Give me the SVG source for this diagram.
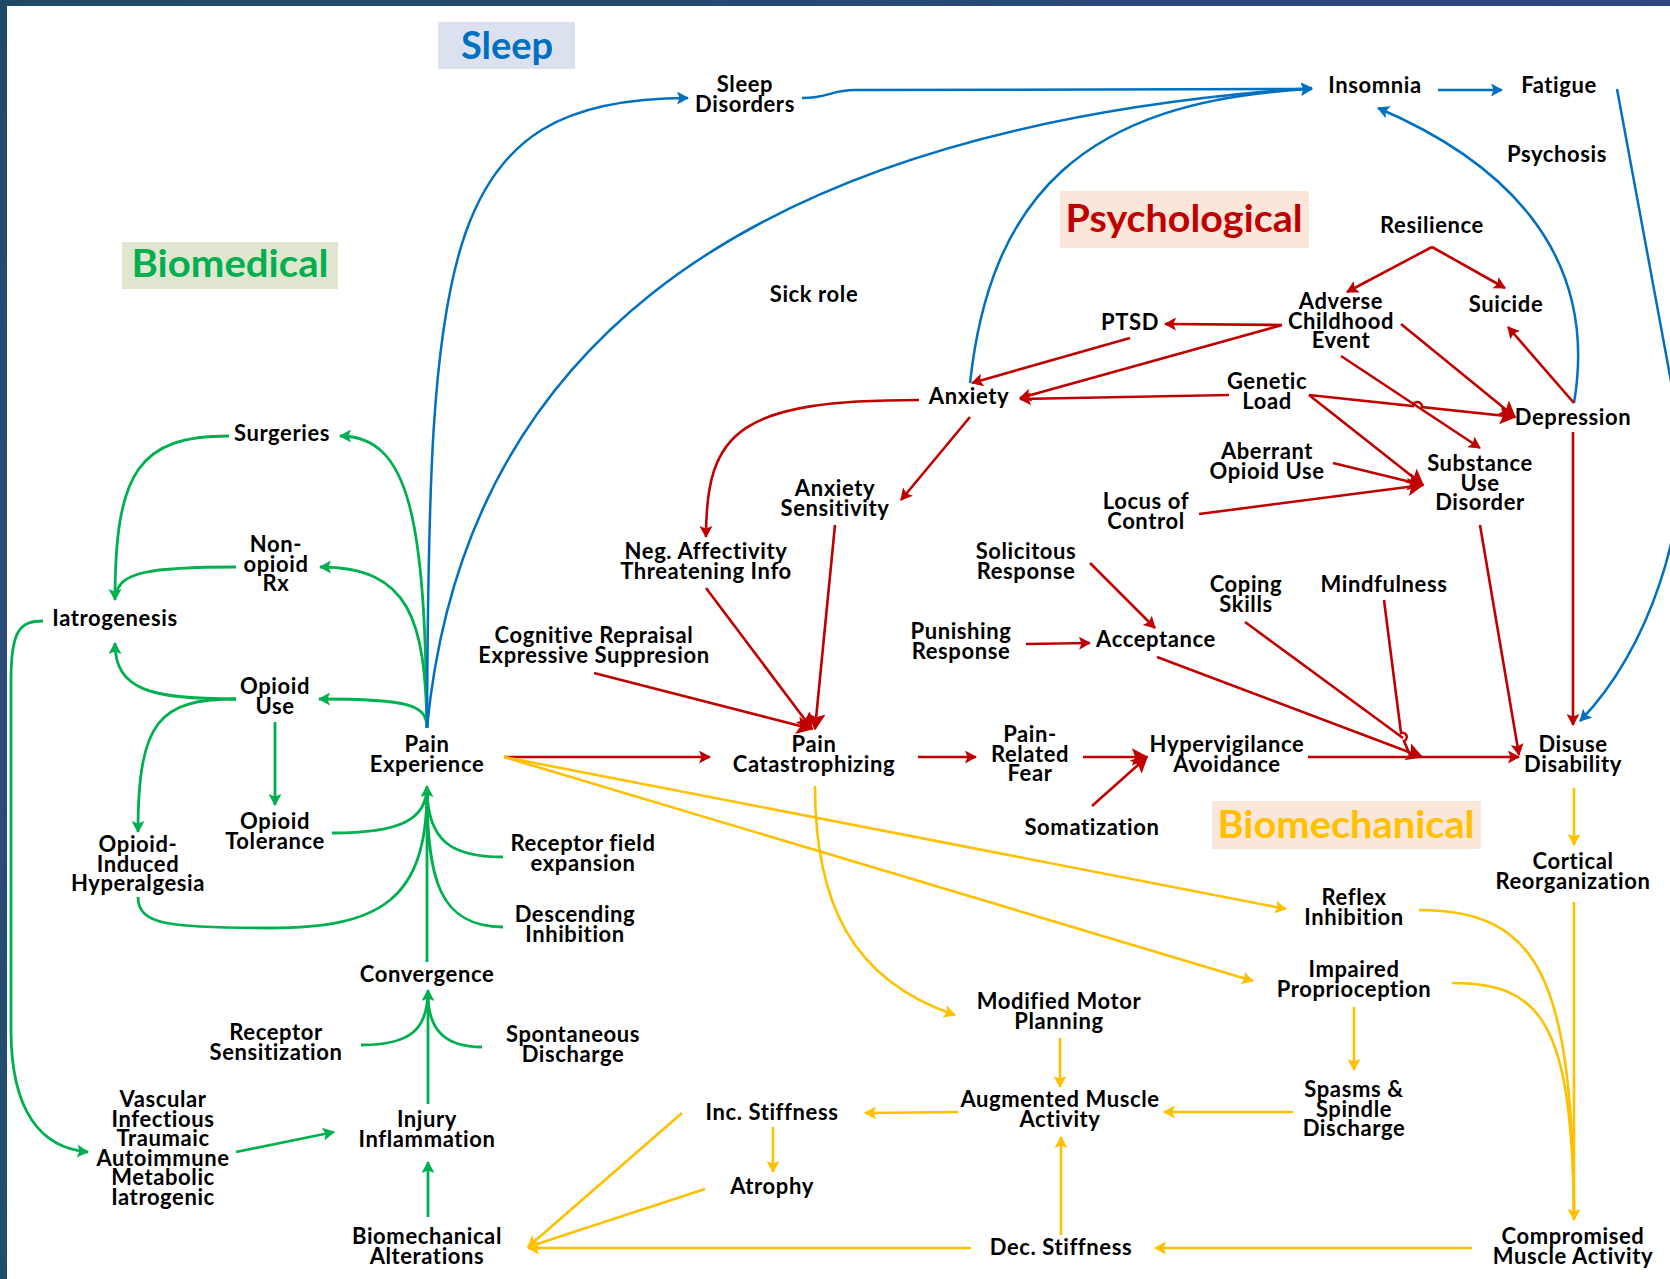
<svg xmlns="http://www.w3.org/2000/svg" width="1670" height="1279" viewBox="0 0 1670 1279">
<defs>
<linearGradient id="topbar" x1="0" y1="0" x2="1" y2="0"><stop offset="0" stop-color="#1e4b64"/><stop offset="1" stop-color="#2f4781"/></linearGradient>
<linearGradient id="leftbar" x1="0" y1="0" x2="0" y2="1"><stop offset="0" stop-color="#1f4a66"/><stop offset="0.5" stop-color="#2c4b7a"/><stop offset="1" stop-color="#204e68"/></linearGradient>
<marker id="aG" viewBox="0 0 12 13" refX="11" refY="6.5" markerWidth="12" markerHeight="13" markerUnits="userSpaceOnUse" orient="auto"><path d="M0,0 L12,6.5 L0,13 L2.5,6.5 z" fill="#00b050"/></marker>
<marker id="aB" viewBox="0 0 12 13" refX="11" refY="6.5" markerWidth="12" markerHeight="13" markerUnits="userSpaceOnUse" orient="auto"><path d="M0,0 L12,6.5 L0,13 L2.5,6.5 z" fill="#0070c0"/></marker>
<marker id="aR" viewBox="0 0 12 13" refX="11" refY="6.5" markerWidth="12" markerHeight="13" markerUnits="userSpaceOnUse" orient="auto"><path d="M0,0 L12,6.5 L0,13 L2.5,6.5 z" fill="#c00000"/></marker>
<marker id="aRL" viewBox="0 0 12 13" refX="11" refY="6.5" markerWidth="17" markerHeight="18" markerUnits="userSpaceOnUse" orient="auto"><path d="M0,0 L12,6.5 L0,13 L2.5,6.5 z" fill="#c00000"/></marker>
<marker id="aY" viewBox="0 0 12 13" refX="11" refY="6.5" markerWidth="12" markerHeight="13" markerUnits="userSpaceOnUse" orient="auto"><path d="M0,0 L12,6.5 L0,13 L2.5,6.5 z" fill="#ffc000"/></marker>
</defs>
<style>
.t{font-family:Lato,"Open Sans","Liberation Sans",sans-serif;font-weight:700;font-size:22px;letter-spacing:0.6px;fill:#000;text-anchor:middle}
.h{font-family:Lato,"Open Sans","Liberation Sans",sans-serif;font-weight:700;font-size:38px;text-anchor:middle}
.g{fill:none;stroke:#00b050;stroke-width:2.8}
.b{fill:none;stroke:#0070c0;stroke-width:2.5}
.r{fill:none;stroke:#c00000;stroke-width:2.6}
.y{fill:none;stroke:#ffc000;stroke-width:2.6}
.g.a{marker-end:url(#aG)}
.b.a{marker-end:url(#aB)}
.r.a{marker-end:url(#aR)}
.r.L{marker-end:url(#aRL)}
.y.a{marker-end:url(#aY)}
</style>
<rect x="0" y="0" width="1670" height="1279" fill="#ffffff"/>
<rect x="0" y="0" width="1670" height="6" fill="url(#topbar)"/>
<rect x="0" y="0" width="7" height="1279" fill="url(#leftbar)"/>

<g id="titles">
<rect x="438" y="22" width="137" height="47" fill="#dce1ef"/>
<text class="h" x="507" y="59" fill="#0070c0">Sleep</text>
<rect x="122" y="242" width="216" height="47" fill="#e1e6d0"/>
<text class="h" x="230" y="277" fill="#00b050" textLength="197" lengthAdjust="spacingAndGlyphs">Biomedical</text>
<rect x="1060" y="191" width="249" height="57" fill="#fbe7d9"/>
<text class="h" x="1184" y="232" fill="#c00000" textLength="237" lengthAdjust="spacingAndGlyphs">Psychological</text>
<rect x="1212" y="801" width="269" height="48" fill="#fbe7d9"/>
<text class="h" x="1346" y="838" fill="#ffc000" textLength="257" lengthAdjust="spacingAndGlyphs">Biomechanical</text>
</g>

<g id="connectors">
<!-- green -->
<path class="g a" d="M427,728 C425,520 410,436 340,436"/>
<path class="g a" d="M427,728 C425,620 410,567 320,567"/>
<path class="g a" d="M427,728 C427,705 410,699 319,699"/>
<path class="g a" d="M229,436 C140,436 115,470 115,600"/>
<path class="g" d="M236,567 C150,567 118,572 116,596"/>
<path class="g a" d="M236,699 C150,699 115,690 115,643"/>
<path class="g a" d="M236,699 C160,699 138,720 138,832"/>
<path class="g a" d="M275,722 L275,805"/>
<path class="g a" d="M332,833 C400,833 427,820 427,786"/>
<path class="g" d="M138,897 C138,925 170,928 270,928 C380,928 427,900 427,790"/>
<path class="g" d="M503,857 C450,857 428,840 427,790"/>
<path class="g" d="M503,927 C440,927 427,880 427,790"/>
<path class="g" d="M427,962 L427,790"/>
<path class="g a" d="M361,1045 C410,1045 428,1030 428,990"/>
<path class="g" d="M482,1047 C445,1047 428,1030 428,994"/>
<path class="g" d="M428,1104 L428,994"/>
<path class="g a" d="M428,1217 L428,1162"/>
<path class="g a" d="M43,621 C20,621 11,630 11,680 L11,1030 C11,1110 40,1148 88,1152"/>
<path class="g a" d="M236,1152 L334,1132"/>
<!-- blue -->
<path class="b a" d="M427,728 C429,250 440,98 688,98"/>
<path class="b a" d="M427,728 C460,380 700,130 1312,88"/>
<path class="b" d="M802,98 C830,98 830,90 855,90 L1300,89"/>
<path class="b a" d="M970,383 C990,200 1080,100 1312,89"/>
<path class="b a" d="M1438,90 L1502,90"/>
<path class="b a" d="M1574,403 C1600,250 1500,160 1378,108"/>
<path class="b a" d="M1617,89 L1680,430 C1690,520 1650,650 1580,721"/>
<!-- red -->
<path class="r a" d="M1432,247 L1347,292"/>
<path class="r a" d="M1432,247 L1505,288"/>
<path class="r a" d="M1282,325 L1165,324"/>
<path class="r a" d="M1282,325 L1020,398"/>
<path class="r a" d="M1130,338 L972,383"/>
<path class="r a" d="M1229,395 L1020,399"/>
<path class="r L" d="M1309,395 L1413,406.1 A4.5,4.5 0 0 1 1422,407.1 L1515,417"/>
<path class="r L" d="M1309,395 L1423,485"/>
<path class="r L" d="M1401,324 L1515,417"/>
<path class="r a" d="M1341,356 L1480,448"/>
<path class="r L" d="M1333,463 L1423,485"/>
<path class="r L" d="M1199,514 L1423,485"/>
<path class="r a" d="M1574,403 L1508,327"/>
<path class="r a" d="M1573,432 L1573,725"/>
<path class="r a" d="M1480,525 L1519,755"/>
<path class="r a" d="M919,400 C740,400 706,430 706,537"/>
<path class="r a" d="M970,417 L901,500"/>
<path class="r L" d="M835,525 L815,729"/>
<path class="r L" d="M706,588 L812,729"/>
<path class="r L" d="M594,673 L812,729"/>
<path class="r a" d="M504,757 L710,757"/>
<path class="r a" d="M918,757 L976,757"/>
<path class="r L" d="M1083,757 L1147,757"/>
<path class="r L" d="M1092,806 L1147,757"/>
<path class="r a" d="M1090,563 L1155,628"/>
<path class="r a" d="M1026,644 L1090,643"/>
<path class="r a" d="M1308,757 L1519,757"/>
<path class="r L" d="M1157,657 L1422,757"/>
<path class="r" d="M1245,622 L1403,738"/>
<path class="r" d="M1384,600 L1401,733 A4,4 0 0 1 1404,741 L1410,755"/>
<!-- yellow -->
<path class="y a" d="M504,757 L1286,909"/>
<path class="y a" d="M504,757 L1253,981"/>
<path class="y a" d="M815,786 C815,900 850,980 955,1015"/>
<path class="y a" d="M1060,1038 L1060,1087"/>
<path class="y a" d="M1293,1112 L1164,1112"/>
<path class="y a" d="M958,1112 L865,1113"/>
<path class="y a" d="M773,1127 L773,1172"/>
<path class="y a" d="M1354,1007 L1354,1070"/>
<path class="y a" d="M1061,1235 L1061,1137"/>
<path class="y a" d="M1472,1248 L1155,1248"/>
<path class="y a" d="M971,1248 L528,1248"/>
<path class="y a" d="M682,1113 L528,1247"/>
<path class="y a" d="M705,1189 L528,1247"/>
<path class="y a" d="M1574,788 L1574,845"/>
<path class="y a" d="M1574,902 L1574,1220"/>
<path class="y" d="M1419,910 C1540,910 1572,980 1574,1215"/>
<path class="y" d="M1452,983 C1540,983 1572,1020 1574,1215"/>
</g>

<g id="n-surgeries"><text class="t" x="282" y="441">Surgeries</text></g>
<g id="n-nonopioid"><text class="t" x="276" y="552"><tspan x="276">Non-</tspan><tspan x="276" dy="19.5">opioid</tspan><tspan x="276" dy="19.5">Rx</tspan></text></g>
<g id="n-iatrogenesis"><text class="t" x="115" y="626">Iatrogenesis</text></g>
<g id="n-opioiduse"><text class="t" x="275" y="694"><tspan x="275">Opioid</tspan><tspan x="275" dy="19.5">Use</tspan></text></g>
<g id="n-opioidtol"><text class="t" x="275" y="829"><tspan x="275">Opioid</tspan><tspan x="275" dy="19.5">Tolerance</tspan></text></g>
<g id="n-oih"><text class="t" x="138" y="852"><tspan x="138">Opioid-</tspan><tspan x="138" dy="19.5">Induced</tspan><tspan x="138" dy="19.5">Hyperalgesia</tspan></text></g>
<g id="n-painexp"><text class="t" x="427" y="752"><tspan x="427">Pain</tspan><tspan x="427" dy="19.5">Experience</tspan></text></g>
<g id="n-recfield"><text class="t" x="583" y="851"><tspan x="583">Receptor field</tspan><tspan x="583" dy="19.5">expansion</tspan></text></g>
<g id="n-descinh"><text class="t" x="575" y="922"><tspan x="575">Descending</tspan><tspan x="575" dy="19.5">Inhibition</tspan></text></g>
<g id="n-convergence"><text class="t" x="427" y="982">Convergence</text></g>
<g id="n-recsens"><text class="t" x="276" y="1040"><tspan x="276">Receptor</tspan><tspan x="276" dy="19.5">Sensitization</tspan></text></g>
<g id="n-spont"><text class="t" x="573" y="1042"><tspan x="573">Spontaneous</tspan><tspan x="573" dy="19.5">Discharge</tspan></text></g>
<g id="n-vascular"><text class="t" x="163" y="1107"><tspan x="163">Vascular</tspan><tspan x="163" dy="19.5">Infectious</tspan><tspan x="163" dy="19.5">Traumaic</tspan><tspan x="163" dy="19.5">Autoimmune</tspan><tspan x="163" dy="19.5">Metabolic</tspan><tspan x="163" dy="19.5">Iatrogenic</tspan></text></g>
<g id="n-injury"><text class="t" x="427" y="1127"><tspan x="427">Injury</tspan><tspan x="427" dy="19.5">Inflammation</tspan></text></g>
<g id="n-biomechalt"><text class="t" x="427" y="1244"><tspan x="427">Biomechanical</tspan><tspan x="427" dy="19.5">Alterations</tspan></text></g>
<g id="n-sleepdis"><text class="t" x="745" y="92"><tspan x="745">Sleep</tspan><tspan x="745" dy="19.5">Disorders</tspan></text></g>
<g id="n-insomnia"><text class="t" x="1375" y="93">Insomnia</text></g>
<g id="n-fatigue"><text class="t" x="1559" y="93">Fatigue</text></g>
<g id="n-psychosis"><text class="t" x="1557" y="162">Psychosis</text></g>
<g id="n-sickrole"><text class="t" x="814" y="302">Sick role</text></g>
<g id="n-resilience"><text class="t" x="1432" y="233">Resilience</text></g>
<g id="n-suicide"><text class="t" x="1506" y="312">Suicide</text></g>
<g id="n-adverse"><text class="t" x="1341" y="309"><tspan x="1341">Adverse</tspan><tspan x="1341" dy="19.5">Childhood</tspan><tspan x="1341" dy="19.5">Event</tspan></text></g>
<g id="n-ptsd"><text class="t" x="1130" y="330">PTSD</text></g>
<g id="n-anxiety"><text class="t" x="969" y="404">Anxiety</text></g>
<g id="n-genetic"><text class="t" x="1267" y="389"><tspan x="1267">Genetic</tspan><tspan x="1267" dy="19.5">Load</tspan></text></g>
<g id="n-depression"><text class="t" x="1573" y="425">Depression</text></g>
<g id="n-aberrant"><text class="t" x="1267" y="459"><tspan x="1267">Aberrant</tspan><tspan x="1267" dy="19.5">Opioid Use</tspan></text></g>
<g id="n-substance"><text class="t" x="1480" y="471"><tspan x="1480">Substance</tspan><tspan x="1480" dy="19.5">Use</tspan><tspan x="1480" dy="19.5">Disorder</tspan></text></g>
<g id="n-locus"><text class="t" x="1146" y="509"><tspan x="1146">Locus of</tspan><tspan x="1146" dy="19.5">Control</tspan></text></g>
<g id="n-anxsens"><text class="t" x="835" y="496"><tspan x="835">Anxiety</tspan><tspan x="835" dy="19.5">Sensitivity</tspan></text></g>
<g id="n-negaff"><text class="t" x="706" y="559"><tspan x="706">Neg. Affectivity</tspan><tspan x="706" dy="19.5">Threatening Info</tspan></text></g>
<g id="n-solicitous"><text class="t" x="1026" y="559"><tspan x="1026">Solicitous</tspan><tspan x="1026" dy="19.5">Response</tspan></text></g>
<g id="n-coping"><text class="t" x="1246" y="592"><tspan x="1246">Coping</tspan><tspan x="1246" dy="19.5">Skills</tspan></text></g>
<g id="n-mindfulness"><text class="t" x="1384" y="592">Mindfulness</text></g>
<g id="n-cognitive"><text class="t" x="594" y="643"><tspan x="594">Cognitive Repraisal</tspan><tspan x="594" dy="19.5">Expressive Suppresion</tspan></text></g>
<g id="n-punishing"><text class="t" x="961" y="639"><tspan x="961">Punishing</tspan><tspan x="961" dy="19.5">Response</tspan></text></g>
<g id="n-acceptance"><text class="t" x="1156" y="647">Acceptance</text></g>
<g id="n-paincat"><text class="t" x="814" y="752"><tspan x="814">Pain</tspan><tspan x="814" dy="19.5">Catastrophizing</tspan></text></g>
<g id="n-prf"><text class="t" x="1030" y="742"><tspan x="1030">Pain-</tspan><tspan x="1030" dy="19.5">Related</tspan><tspan x="1030" dy="19.5">Fear</tspan></text></g>
<g id="n-hyperv"><text class="t" x="1227" y="752"><tspan x="1227">Hypervigilance</tspan><tspan x="1227" dy="19.5">Avoidance</tspan></text></g>
<g id="n-somatization"><text class="t" x="1092" y="835">Somatization</text></g>
<g id="n-disuse"><text class="t" x="1573" y="752"><tspan x="1573">Disuse</tspan><tspan x="1573" dy="19.5">Disability</tspan></text></g>
<g id="n-cortical"><text class="t" x="1573" y="869"><tspan x="1573">Cortical</tspan><tspan x="1573" dy="19.5">Reorganization</tspan></text></g>
<g id="n-reflex"><text class="t" x="1354" y="905"><tspan x="1354">Reflex</tspan><tspan x="1354" dy="19.5">Inhibition</tspan></text></g>
<g id="n-impaired"><text class="t" x="1354" y="977"><tspan x="1354">Impaired</tspan><tspan x="1354" dy="19.5">Proprioception</tspan></text></g>
<g id="n-modified"><text class="t" x="1059" y="1009"><tspan x="1059">Modified Motor</tspan><tspan x="1059" dy="19.5">Planning</tspan></text></g>
<g id="n-augmented"><text class="t" x="1060" y="1107"><tspan x="1060">Augmented Muscle</tspan><tspan x="1060" dy="19.5">Activity</tspan></text></g>
<g id="n-spasms"><text class="t" x="1354" y="1097"><tspan x="1354">Spasms &amp;</tspan><tspan x="1354" dy="19.5">Spindle</tspan><tspan x="1354" dy="19.5">Discharge</tspan></text></g>
<g id="n-incstiff"><text class="t" x="772" y="1120">Inc. Stiffness</text></g>
<g id="n-atrophy"><text class="t" x="772" y="1194">Atrophy</text></g>
<g id="n-decstiff"><text class="t" x="1061" y="1255">Dec. Stiffness</text></g>
<g id="n-compromised"><text class="t" x="1573" y="1244"><tspan x="1573">Compromised</tspan><tspan x="1573" dy="19.5">Muscle Activity</tspan></text></g>
</svg>
